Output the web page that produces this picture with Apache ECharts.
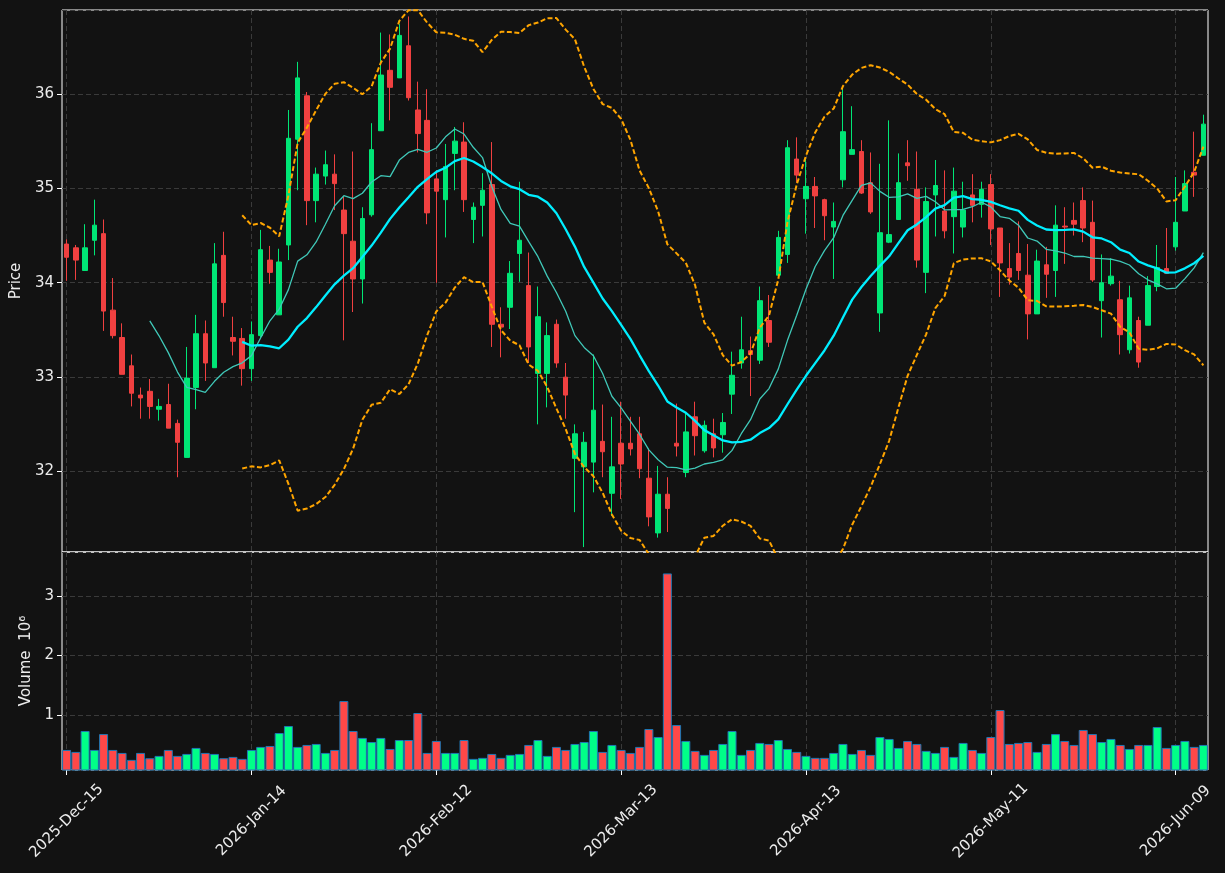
<!DOCTYPE html>
<html><head><meta charset="utf-8">
<script src="https://cdn.jsdelivr.net/npm/echarts@6/dist/echarts.min.js"></script>
<style>html,body{margin:0;padding:0;background:#121212;}#c{width:1225px;height:873px;}</style>
</head><body><div id="c"></div><script>
const dates = [
"2025-Dec-15","2025-Dec-16","2025-Dec-17","2025-Dec-18","2025-Dec-19","2025-Dec-22","2025-Dec-23","2025-Dec-24","2025-Dec-26","2025-Dec-29","2025-Dec-30","2025-Dec-31",
"2026-Jan-02","2026-Jan-05","2026-Jan-06","2026-Jan-07","2026-Jan-08","2026-Jan-09","2026-Jan-12","2026-Jan-13","2026-Jan-14","2026-Jan-15","2026-Jan-16","2026-Jan-20","2026-Jan-21","2026-Jan-22","2026-Jan-23","2026-Jan-26","2026-Jan-27","2026-Jan-28","2026-Jan-29","2026-Jan-30",
"2026-Feb-02","2026-Feb-03","2026-Feb-04","2026-Feb-05","2026-Feb-06","2026-Feb-09","2026-Feb-10","2026-Feb-11","2026-Feb-12","2026-Feb-13","2026-Feb-17","2026-Feb-18","2026-Feb-19","2026-Feb-20","2026-Feb-23","2026-Feb-24","2026-Feb-25","2026-Feb-26","2026-Feb-27",
"2026-Mar-02","2026-Mar-03","2026-Mar-04","2026-Mar-05","2026-Mar-06","2026-Mar-09","2026-Mar-10","2026-Mar-11","2026-Mar-12","2026-Mar-13","2026-Mar-16","2026-Mar-17","2026-Mar-18","2026-Mar-19","2026-Mar-20","2026-Mar-23","2026-Mar-24","2026-Mar-25","2026-Mar-26","2026-Mar-27","2026-Mar-30","2026-Mar-31",
"2026-Apr-01","2026-Apr-02","2026-Apr-06","2026-Apr-07","2026-Apr-08","2026-Apr-09","2026-Apr-10","2026-Apr-13","2026-Apr-14","2026-Apr-15","2026-Apr-16","2026-Apr-17","2026-Apr-20","2026-Apr-21","2026-Apr-22","2026-Apr-23","2026-Apr-24","2026-Apr-27","2026-Apr-28","2026-Apr-29","2026-Apr-30",
"2026-May-01","2026-May-04","2026-May-05","2026-May-06","2026-May-07","2026-May-08","2026-May-11","2026-May-12","2026-May-13","2026-May-14","2026-May-15","2026-May-18","2026-May-19","2026-May-20","2026-May-21","2026-May-22","2026-May-26","2026-May-27","2026-May-28","2026-May-29",
"2026-Jun-01","2026-Jun-02","2026-Jun-03","2026-Jun-04","2026-Jun-05","2026-Jun-08","2026-Jun-09","2026-Jun-10","2026-Jun-11","2026-Jun-12"];

const openP = [34.41,34.37,34.13,34.45,34.52,33.71,33.42,33.12,32.81,32.85,32.66,32.71,32.51,32.15,32.89,33.46,33.10,34.29,33.42,33.41,
33.09,33.44,34.24,33.66,34.40,35.52,35.98,34.87,35.13,35.15,34.77,34.44,34.04,34.72,35.61,36.25,36.17,36.51,35.83,35.72,
35.10,34.88,35.37,35.49,34.67,34.82,35.04,33.56,33.74,34.31,33.97,33.04,33.04,33.56,33.00,32.14,32.05,32.10,32.32,31.77,
32.30,32.30,32.40,31.93,31.35,31.76,32.30,31.99,32.58,32.22,32.40,32.39,32.82,33.15,33.28,33.18,33.60,34.08,34.30,35.31,
34.89,35.02,34.88,34.59,35.09,35.36,35.39,35.06,33.68,34.43,34.67,35.27,34.99,34.11,34.93,34.76,34.70,34.59,34.93,34.83,
35.04,34.58,34.15,34.31,34.08,33.67,34.19,34.13,34.60,34.66,34.87,34.64,33.81,33.99,33.82,33.29,33.60,33.55,33.96,34.15,
34.38,34.76,35.17,35.35];
const highP = [34.46,34.40,34.62,34.88,34.67,34.05,33.57,33.24,32.89,32.98,32.77,32.93,32.55,33.32,33.66,33.60,34.42,34.54,33.64,33.52,
33.59,34.56,34.39,34.36,35.83,36.34,36.02,35.22,35.40,35.36,34.91,35.39,34.80,35.69,36.65,36.63,36.74,36.82,36.13,36.05,
35.19,35.47,35.65,35.70,34.85,35.16,35.49,33.74,34.23,35.07,34.32,33.96,33.58,33.61,33.15,32.50,32.42,33.24,32.71,32.58,
32.74,32.58,32.58,32.24,32.06,31.94,32.72,32.62,32.74,32.54,32.56,32.62,33.27,33.64,33.43,33.96,33.87,34.55,35.51,35.54,
35.33,35.12,34.89,34.85,36.07,35.87,35.51,35.38,35.26,35.72,35.37,35.51,35.39,35.01,35.30,35.19,35.22,35.07,35.15,35.07,
35.15,34.58,34.42,34.65,34.41,34.35,34.38,34.82,34.80,34.85,35.01,34.87,34.30,34.26,34.02,33.97,33.64,34.07,34.40,34.58,
35.12,35.19,35.60,35.78];
const lowP = [34.02,34.03,34.13,34.29,33.49,33.41,33.03,32.69,32.56,32.56,32.54,32.46,31.94,32.15,32.66,32.96,33.10,33.64,33.23,32.91,
32.96,33.42,33.99,33.66,34.24,34.98,34.61,34.64,35.04,34.77,33.39,33.69,33.78,34.70,35.61,35.72,36.17,35.93,35.38,34.62,
34.00,34.48,34.98,34.75,34.42,34.49,33.32,33.21,33.51,34.01,33.15,32.50,32.68,33.10,32.56,31.57,31.20,31.78,31.94,31.53,
31.71,32.17,31.93,31.42,31.30,31.36,32.16,31.94,32.17,32.20,32.15,32.20,32.61,33.09,32.80,33.14,33.32,34.08,34.21,35.06,
34.52,34.58,34.45,34.04,35.01,35.36,34.94,34.73,33.48,34.42,34.67,35.08,34.16,33.89,34.49,34.47,34.31,34.48,34.64,34.69,
34.40,33.85,33.98,34.03,33.40,33.67,33.84,33.85,34.20,34.50,34.43,34.01,33.42,33.97,33.24,33.25,33.10,33.55,33.91,34.10,
34.34,34.76,34.91,35.35];
const closeP = [34.27,34.24,34.37,34.61,33.70,33.44,33.03,32.83,32.78,32.69,32.69,32.46,32.31,32.99,33.46,33.15,34.20,33.79,33.38,33.09,
33.45,34.35,34.11,34.22,35.53,36.17,34.87,35.15,35.25,35.05,34.52,34.04,34.68,35.41,36.20,36.07,36.62,35.96,35.58,34.74,
34.97,35.23,35.50,34.88,34.80,34.98,33.56,33.53,34.10,34.45,33.32,33.64,33.44,33.15,32.81,32.40,32.31,32.65,32.21,32.05,
32.08,32.24,32.03,31.52,31.76,31.61,32.27,32.42,32.38,32.49,32.25,32.52,33.02,33.29,33.24,33.81,33.37,34.48,35.43,35.14,
35.02,34.92,34.71,34.65,35.60,35.41,34.95,34.75,34.53,34.51,35.06,35.24,34.24,34.86,35.03,34.55,34.97,34.77,34.82,34.99,
34.57,34.21,34.06,34.13,33.67,34.23,34.09,34.61,34.59,34.62,34.58,34.03,34.00,34.07,33.45,33.84,33.16,33.97,34.16,34.10,
34.64,35.05,35.14,35.68];
const volumeM = [0.413,0.38,0.732,0.413,0.68,0.413,0.363,0.246,0.363,0.274,0.313,0.413,0.313,0.346,0.447,0.363,0.346,0.274,0.296,0.263,
0.413,0.464,0.48,0.698,0.816,0.464,0.497,0.514,0.363,0.413,1.235,0.732,0.615,0.547,0.615,0.43,0.58,0.58,1.034,0.363,
0.564,0.363,0.363,0.58,0.263,0.28,0.346,0.28,0.33,0.346,0.497,0.58,0.313,0.464,0.413,0.514,0.547,0.732,0.38,0.497,
0.413,0.363,0.464,0.765,0.631,3.38,0.832,0.564,0.397,0.33,0.413,0.514,0.732,0.33,0.413,0.531,0.514,0.58,0.43,0.38,
0.313,0.28,0.28,0.363,0.514,0.346,0.413,0.33,0.631,0.598,0.447,0.564,0.514,0.397,0.363,0.464,0.296,0.531,0.413,0.363,
0.631,1.084,0.514,0.531,0.547,0.38,0.514,0.68,0.564,0.497,0.749,0.68,0.547,0.598,0.497,0.43,0.497,0.497,0.799,0.447,
0.497,0.564,0.464,0.497];

const UP = '#00e676', DOWN = '#f04040', VUP = '#00ff88', VDOWN = '#ff4848';

function sma(arr, n) {
  return arr.map((v, i) => {
    if (i < n - 1) return '-';
    let s = 0; for (let k = i - n + 1; k <= i; k++) s += arr[k];
    return +(s / n).toFixed(4);
  });
}
function bands(arr, n, m) {
  const up = [], lo = [];
  arr.forEach((v, i) => {
    if (i < n - 1) { up.push('-'); lo.push('-'); return; }
    let s = 0; for (let k = i - n + 1; k <= i; k++) s += arr[k];
    const mean = s / n; let q = 0;
    for (let k = i - n + 1; k <= i; k++) q += (arr[k] - mean) ** 2;
    const sd = Math.sqrt(q / n);
    up.push(+(mean + m * sd).toFixed(4)); lo.push(+(mean - m * sd).toFixed(4));
  });
  return [up, lo];
}
const ma10 = sma(closeP, 10), ma20 = sma(closeP, 20);
const [bbUp, bbLo] = bands(closeP, 20, 2);
const ohlc = dates.map((d, i) => [openP[i], closeP[i], lowP[i], highP[i]]);
const vols = volumeM.map((v, i) => ({ value: v, itemStyle: { color: closeP[i] >= openP[i] ? VUP : VDOWN } }));

const txt = '#ececec', grid = '#3a3a3a', font = 'DejaVu Sans';
const chart = echarts.init(document.getElementById('c'), null, { renderer: 'canvas' });
chart.setOption({
  backgroundColor: '#121212',
  animation: false,
  textStyle: { fontFamily: font },
  grid: [
    { left: 62, top: 10, width: 1146, height: 542, show: true, borderColor: '#ffffff', borderWidth: 1, backgroundColor: 'transparent' },
    { left: 62, top: 552, width: 1146, height: 218, show: true, borderColor: '#ffffff', borderWidth: 1, backgroundColor: 'transparent' }
  ],
  xAxis: [
    { type: 'category', gridIndex: 0, data: dates, boundaryGap: true,
      axisLine: { show: false }, axisTick: { show: false }, axisLabel: { show: false },
      splitLine: { show: true, interval: 19, alignWithLabel: true, lineStyle: { color: grid, type: [5, 3] } } },
    { type: 'category', gridIndex: 1, data: dates, boundaryGap: true,
      axisLine: { show: false },
      axisTick: { show: true, interval: 19, alignWithLabel: true, length: 5, lineStyle: { color: '#ffffff' } },
      axisLabel: { interval: 19, rotate: 45, align: 'center', verticalAlign: 'middle', margin: 51, color: txt, fontSize: 15, fontFamily: font },
      splitLine: { show: true, interval: 19, alignWithLabel: true, lineStyle: { color: grid, type: [5, 3] } } }
  ],
  yAxis: [
    { type: 'value', gridIndex: 0, min: 31.148, max: 36.889, scale: true,
      name: 'Price', nameLocation: 'middle', nameGap: 35, nameRotate: 90,
      nameTextStyle: { color: txt, fontSize: 15, fontFamily: font },
      axisLine: { show: false }, axisTick: { show: true, length: 5, lineStyle: { color: '#ffffff' } },
      axisLabel: { color: txt, fontSize: 15, fontFamily: font, showMinLabel: false, showMaxLabel: false, margin: 8 },
      splitLine: { show: true, lineStyle: { color: grid, type: [5, 3] } } },
    { type: 'value', gridIndex: 1, min: 0.076, max: 3.74,
      name: 'Volume  10\u2076', nameLocation: 'middle', nameGap: 28, nameRotate: 90,
      nameTextStyle: { color: txt, fontSize: 15, fontFamily: font },
      axisLine: { show: false }, axisTick: { show: true, length: 5, lineStyle: { color: '#ffffff' } },
      axisLabel: { color: txt, fontSize: 15, fontFamily: font, showMinLabel: false, showMaxLabel: false, margin: 8 },
      splitLine: { show: true, lineStyle: { color: grid, type: [5, 3] } } }
  ],
  series: [
    { type: 'candlestick', xAxisIndex: 0, yAxisIndex: 0, data: ohlc, barWidth: 5,
      itemStyle: { color: UP, color0: DOWN, borderColor: UP, borderColor0: DOWN, borderWidth: 1 } },
    { type: 'line', xAxisIndex: 0, yAxisIndex: 0, data: ma10, showSymbol: false, symbol: 'none',
      lineStyle: { color: '#40c8b8', width: 1.3 }, z: 3 },
    { type: 'line', xAxisIndex: 0, yAxisIndex: 0, data: ma20, showSymbol: false, symbol: 'none',
      lineStyle: { color: '#00eeff', width: 2.3 }, z: 3 },
    { type: 'line', xAxisIndex: 0, yAxisIndex: 0, data: bbUp, showSymbol: false, symbol: 'none', clip: true,
      lineStyle: { color: '#ffa500', width: 2, type: [5, 2.5] }, z: 3 },
    { type: 'line', xAxisIndex: 0, yAxisIndex: 0, data: bbLo, showSymbol: false, symbol: 'none', clip: true,
      lineStyle: { color: '#ffa500', width: 2, type: [5, 2.5] }, z: 3 },
    { type: 'bar', xAxisIndex: 1, yAxisIndex: 1, data: vols, barWidth: 9,
      itemStyle: { borderColor: '#1f77b4', borderWidth: 1 } }
  ]
});
</script></body></html>
